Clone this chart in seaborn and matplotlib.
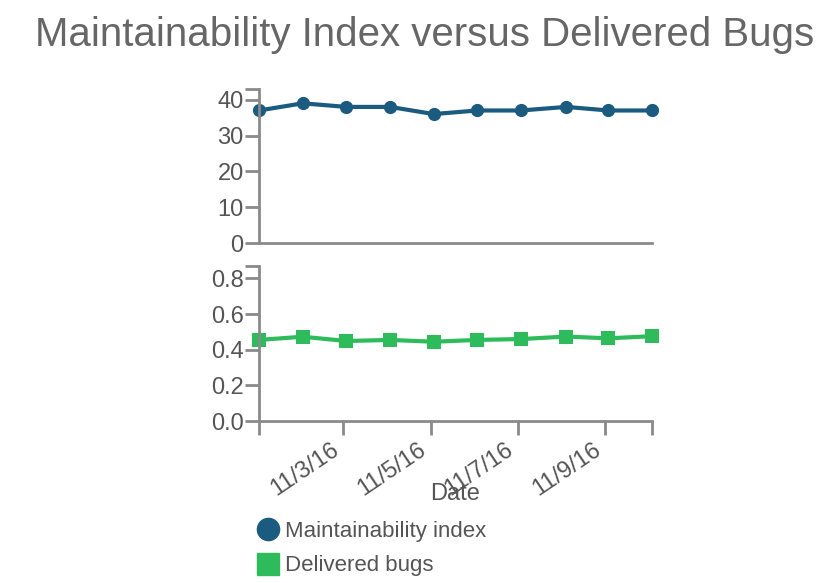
import matplotlib
matplotlib.use("Agg")
import matplotlib.pyplot as plt
import matplotlib.dates as mdates
import matplotlib.transforms as mtransforms
from matplotlib.lines import Line2D
import seaborn as sns
import pandas as pd

dates = ["2016-11-01 01:40", "2016-11-02 01:40", "2016-11-03 01:40", "2016-11-04 01:40",
         "2016-11-05 01:40", "2016-11-06 01:40", "2016-11-07 01:40", "2016-11-08 02:30",
         "2016-11-09 01:40", "2016-11-10 01:40"]
maintainability = [37, 39, 38, 38, 36, 37, 37, 38, 37, 37]
bugs = [0.455, 0.473, 0.449, 0.455, 0.445, 0.455, 0.460, 0.474, 0.464, 0.476]
mi_label = "Maintainability index"
bugs_label = "Delivered bugs"
title = "Maintainability Index versus Delivered Bugs"
xlabel = "Date"
mi_ticks = [0, 10, 20, 30, 40]
bug_ticks = [0.0, 0.2, 0.4, 0.6, 0.8]

sns.set_style("white")
plt.rcParams['font.family'] = ['Liberation Sans', 'DejaVu Sans']

blue = "#1b5b7f"
green = "#2dbb5b"
axis_gray = "#8a8a8a"
text_gray = "#555555"
TS = 17

df = pd.DataFrame({"date": pd.to_datetime(dates), "mi": maintainability, "bugs": bugs})

fig = plt.figure(figsize=(8.29, 5.83), dpi=100)
W, H = 829, 583
left, right = 259, 652
ax1 = fig.add_axes([left / W, 1 - 243 / H, (right - left) / W, 154 / H])
ax2 = fig.add_axes([left / W, 1 - 421 / H, (right - left) / W, 155 / H])

sns.lineplot(data=df, x="date", y="mi", ax=ax1, color=blue, marker="o", markersize=9.5,
             linewidth=3, markeredgewidth=0, clip_on=False)
sns.lineplot(data=df, x="date", y="bugs", ax=ax2, color=green, marker="s", markersize=9.5,
             linewidth=3, markeredgewidth=0, clip_on=False)

xmin, xmax = df["date"].min(), df["date"].max()
for ax, ticks, top in ((ax1, mi_ticks, 43.0), (ax2, bug_ticks, 0.87)):
    ax.set_xlim(xmin, xmax)
    ax.set_ylim(0, top)
    ax.set_yticks(ticks)
    ax.set_yticks([top], minor=True)
    for s in ("top", "right"):
        ax.spines[s].set_visible(False)
    for s in ("left", "bottom"):
        ax.spines[s].set_color(axis_gray)
        ax.spines[s].set_linewidth(2)
    ax.tick_params(axis="y", which="both", direction="out", length=10, width=2,
                   color=axis_gray, labelsize=TS, labelcolor=text_gray, pad=1, left=True)
    ax.set_ylabel("")
    ax.grid(False)

ax1.set_yticklabels([str(t) for t in mi_ticks])
ax2.set_yticklabels([f"{t:.1f}" for t in bug_ticks])

ax1.set_xticks([])
ax1.set_xlabel("")

ax2.xaxis.set_major_locator(mdates.DayLocator(bymonthday=[3, 5, 7, 9]))
ax2.xaxis.set_major_formatter(mdates.DateFormatter("%-m/%-d/%y"))
ax2.set_xticks([mdates.date2num(xmin), mdates.date2num(xmax)], minor=True)
ax2.tick_params(axis="x", which="both", direction="out", length=10, width=2,
                color=axis_gray, labelsize=TS, labelcolor=text_gray, pad=3, bottom=True)
shift = mtransforms.ScaledTranslation(-13 / 100, 0, fig.dpi_scale_trans)
for lbl in ax2.get_xticklabels():
    lbl.set_rotation(34)
    lbl.set_ha("right")
    lbl.set_rotation_mode("anchor")
    lbl.set_transform(lbl.get_transform() + shift)
ax2.set_xlabel(xlabel, fontsize=TS, color=text_gray)
ax2.xaxis.set_label_coords(0.5, -0.47)
ax2.xaxis.label.set_va("center")

fig.text(425 / W, 1 - 35 / H, title, ha="center", va="center", fontsize=29, color="#666666")

handles = [Line2D([], [], marker="o", linestyle="none", color=blue, markersize=16),
           Line2D([], [], marker="s", linestyle="none", color=green, markersize=16)]
fig.legend(handles, [mi_label, bugs_label], loc="upper left",
           bbox_to_anchor=(254 / W, 1 - 521 / H), frameon=False, fontsize=16,
           labelcolor=text_gray, handletextpad=0.1, labelspacing=0.6, handlelength=1.3,
           borderaxespad=0, borderpad=0)

fig.savefig("out.png", dpi=100)
